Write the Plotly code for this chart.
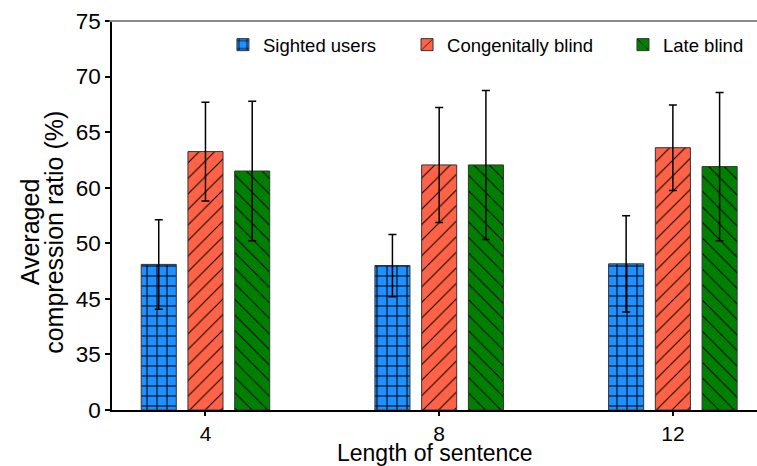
import plotly.graph_objects as go

# ---- data (bar heights in axis units: each labelled tick step = 10 units) ----
lengths = [4, 8, 12]
series_names = ["Sighted users", "Congenitally blind", "Late blind"]
sighted = [26.2, 26.0, 26.3]
sighted_err = [8.05, 5.6, 8.65]
congenital = [46.5, 44.1, 47.2]
congenital_err = [8.9, 10.35, 7.7]
late = [43.0, 44.1, 43.8]
late_err = [12.55, 13.4, 13.35]
ytick_vals = [0, 10, 20, 30, 40, 50, 60, 70]
ytick_text = ["0", "35", "45", "50", "60", "65", "70", "75"]

FONT = "Liberation Sans, Arial, Helvetica, sans-serif"
colors = ["#1E90FF", "#FF6347", "#008000"]
shapes_ = ["+", "/", "\\"]
psize = [10, 11, 11]
psol = [0.19, 0.09, 0.09]
offsets = [-1.1, -0.3, 0.5]
legends = ["legend", "legend2", "legend3"]
values = [sighted, congenital, late]
errors = [sighted_err, congenital_err, late_err]

fig = go.Figure()
for i in range(3):
    fig.add_trace(go.Bar(
        x=lengths, y=values[i], name=series_names[i],
        width=0.6, offset=offsets[i],
        marker=dict(color=colors[i], line=dict(color="#333333", width=1),
                    pattern=dict(shape=shapes_[i], fgcolor="black", bgcolor=colors[i],
                                 size=psize[i], solidity=psol[i], fillmode="replace")),
        error_y=dict(type="data", array=errors[i], visible=True, color="black",
                     thickness=1.5, width=4),
        legend=legends[i], showlegend=True,
    ))

leg_common = dict(orientation="h", yanchor="middle", xanchor="left",
                  font=dict(family=FONT, size=18.5, color="black"),
                  bgcolor="rgba(0,0,0,0)", borderwidth=0)

fig.update_layout(
    width=757, height=466,
    margin=dict(l=112, r=0, t=21, b=56),
    plot_bgcolor="white", paper_bgcolor="white",
    barmode="overlay",
    font=dict(family=FONT, color="black"),
    legend=dict(x=0.172, y=0.938, **leg_common),
    legend2=dict(x=0.4574, y=0.938, **leg_common),
    legend3=dict(x=0.7922, y=0.938, **leg_common),
    xaxis=dict(range=[2.4, 13.44], tickvals=lengths, ticktext=[str(v) for v in lengths],
               showline=True, linecolor="black", linewidth=1.5, ticks="outside",
               ticklen=4, tickwidth=1.5, tickcolor="black", showgrid=False, zeroline=False,
               tickfont=dict(family=FONT, size=21, color="black")),
    yaxis=dict(range=[0, 70], tickvals=ytick_vals, ticktext=ytick_text,
               showline=True, linecolor="black", linewidth=1.5, ticks="outside",
               ticklen=5, tickwidth=1.5, tickcolor="black", showgrid=False, zeroline=False,
               tickfont=dict(family=FONT, size=22.5, color="black")),
    shapes=[dict(type="line", xref="paper", yref="paper", x0=-0.004, x1=1, y0=1, y1=1,
                 line=dict(color="#8c8c8c", width=2))],
    annotations=[
        dict(text="Averaged", xref="paper", yref="paper", x=-0.128, y=0.458,
             textangle=-90, showarrow=False, xanchor="center", yanchor="middle",
             font=dict(family=FONT, size=25, color="black")),
        dict(text="compression ratio (%)", xref="paper", yref="paper", x=-0.090, y=0.458,
             textangle=-90, showarrow=False, xanchor="center", yanchor="middle",
             font=dict(family=FONT, size=25, color="black")),
        dict(text="Length of sentence", xref="paper", yref="paper", x=0.5, y=0.0,
             yshift=-58, showarrow=False, xanchor="center", yanchor="bottom",
             font=dict(family=FONT, size=23, color="black")),
    ],
)

fig.write_html("out.html")
